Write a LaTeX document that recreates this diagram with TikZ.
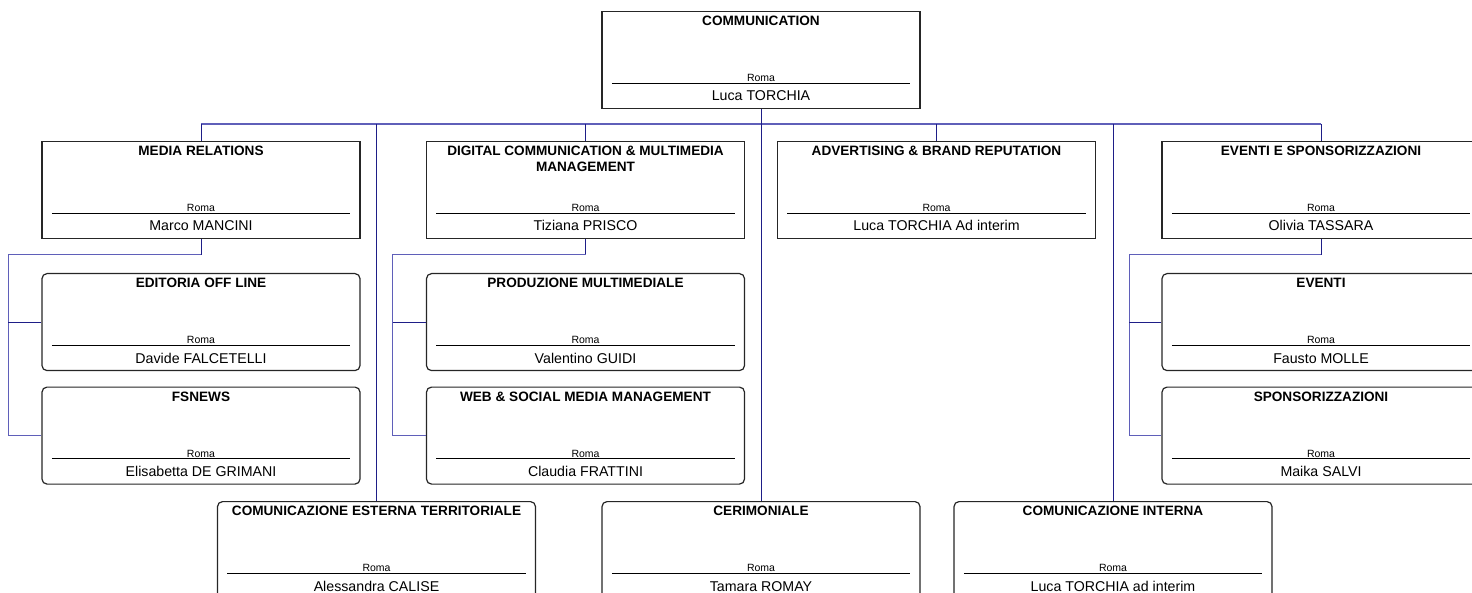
\documentclass[tikz,border=0pt]{standalone}
\usepackage{fontspec}
\setmainfont{Liberation Sans}
\usetikzlibrary{calc}
\definecolor{conncol}{RGB}{30,30,135}
\definecolor{buscol}{RGB}{95,95,185}
\tikzset{
  unitbox/.style={draw=black!85, line width=1.2pt, minimum width=318pt, minimum height=97pt, inner sep=0pt, fill=white},
  unitround/.style={unitbox, rounded corners=5pt},
  titletext/.style={font=\bfseries\fontsize{13.6}{16}\selectfont, inner sep=0pt, align=center},
  citytext/.style={font=\fontsize{10.5}{12}\selectfont, inner sep=0pt},
  nametext/.style={font=\fontsize{14.2}{16}\selectfont, inner sep=0pt},
  rulestroke/.style={line width=0.9pt},
  conn/.style={draw=conncol, line width=1pt},
  busline/.style={draw=buscol, line width=1.1pt}
}
% #1 node name, #2 centre x, #3 top y, #4 style, #5 title, #6 person
\newcommand\orgunit[6]{%
  \node[#4, anchor=north] (#1) at (#2,#3) {};
  \node[titletext, anchor=north] (#1-t) at ($(#1.north)+(0,5)$) {#5};
  \draw[rulestroke] ($(#1.north west)+(10.5,72)$) -- ($(#1.north east)+(-10.5,72)$);
  \node[citytext, anchor=base] (#1-c) at ($(#1.north)+(0,70.5)$) {Roma};
  \node[nametext, anchor=base] (#1-n) at ($(#1.north)+(0,90)$) {#6};
}
\begin{document}
\begin{tikzpicture}[x=1pt,y=-1pt]
\useasboundingbox (0,0) rectangle (1472,593);
\clip (0,0) rectangle (1472,593);

\orgunit{comm}{761}{11}{unitbox}{COMMUNICATION}{Luca TORCHIA}

\orgunit{media}{201}{141}{unitbox}{MEDIA RELATIONS}{Marco MANCINI}
\orgunit{digital}{585.5}{141}{unitbox}{DIGITAL COMMUNICATION \& MULTIMEDIA\\MANAGEMENT}{Tiziana PRISCO}
\orgunit{adv}{936.5}{141}{unitbox}{ADVERTISING \& BRAND REPUTATION}{Luca TORCHIA Ad interim}
\orgunit{eventisp}{1321}{141}{unitbox}{EVENTI E SPONSORIZZAZIONI}{Olivia TASSARA}

\orgunit{editoria}{201}{273}{unitround}{EDITORIA OFF LINE}{Davide FALCETELLI}
\orgunit{fsnews}{201}{386.5}{unitround}{FSNEWS}{Elisabetta DE GRIMANI}
\orgunit{produzione}{585.5}{273}{unitround}{PRODUZIONE MULTIMEDIALE}{Valentino GUIDI}
\orgunit{web}{585.5}{386.5}{unitround}{WEB \& SOCIAL MEDIA MANAGEMENT}{Claudia FRATTINI}
\orgunit{eventi}{1321}{273}{unitround}{EVENTI}{Fausto MOLLE}
\orgunit{sponsor}{1321}{386.5}{unitround}{SPONSORIZZAZIONI}{Maika SALVI}

\orgunit{cet}{376.5}{501}{unitround}{COMUNICAZIONE ESTERNA TERRITORIALE}{Alessandra CALISE}
\orgunit{cer}{761}{501}{unitround}{CERIMONIALE}{Tamara ROMAY}
\orgunit{ci}{1113}{501}{unitround}{COMUNICAZIONE INTERNA}{Luca TORCHIA ad interim}

% bus
\coordinate (bus) at (761,124);
\draw[busline] (media.north |- bus) -- (eventisp.north |- bus);
\foreach \c in {media,digital,adv,eventisp,cet,ci}{
  \draw[conn] (\c.north |- bus) -- (\c.north);
}
\draw[conn] (comm.south) -- (cer.north);

% sub-units
\draw[conn] (media.south) -- ++(0,15.5) coordinate (mb);
\draw[busline] (mb) -| ($(fsnews.west)+(-33,0)$) -- (fsnews.west);
\draw[conn] ($(editoria.west)+(-33,0)$) -- (editoria.west);
\draw[conn] (digital.south) -- ++(0,15.5) coordinate (db);
\draw[busline] (db) -| ($(web.west)+(-33,0)$) -- (web.west);
\draw[conn] ($(produzione.west)+(-33,0)$) -- (produzione.west);
\draw[conn] (eventisp.south) -- ++(0,15.5) coordinate (eb);
\draw[busline] (eb) -| ($(sponsor.west)+(-32,0)$) -- (sponsor.west);
\draw[conn] ($(eventi.west)+(-32,0)$) -- (eventi.west);
\end{tikzpicture}
\end{document}
